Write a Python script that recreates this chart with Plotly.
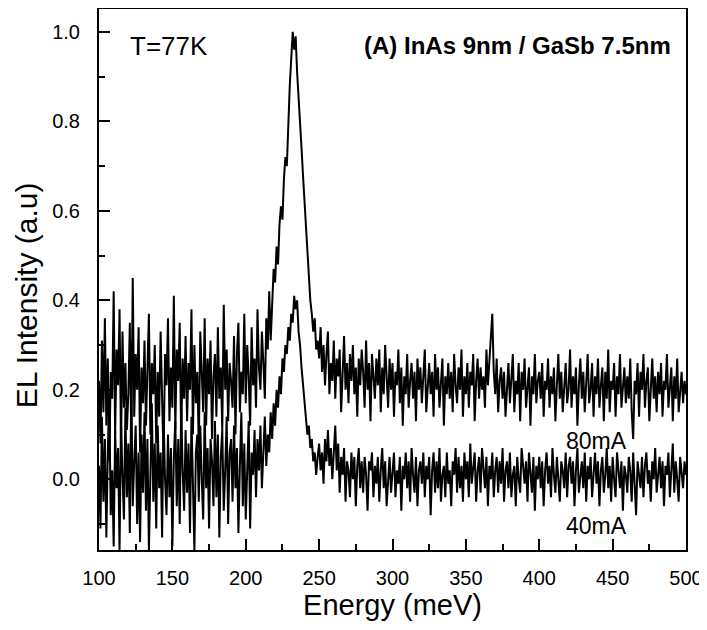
import plotly.graph_objects as go

# Energy axis (meV), 1 meV steps from 100 to 500
energy = list(range(100, 501))

# EL intensity at 80 mA (one row = 10 meV)
el_80ma = [
    0.22, 0.08, 0.31, 0.15, 0.36, 0.12, 0.27, 0.04, 0.24, 0.18,
    0.42, 0.10, 0.29, 0.21, 0.38, 0.07, 0.33, 0.16, 0.26, 0.11,
    0.19, 0.35, 0.09, 0.45, 0.14, 0.28, 0.20, 0.34, 0.06, 0.25,
    0.17, 0.31, 0.12, 0.23, 0.37, 0.10, 0.26, 0.19, 0.30, 0.08,
    0.24, 0.14, 0.33, 0.18, 0.05, 0.28, 0.21, 0.36, 0.13, 0.25,
    0.16, 0.41, 0.11, 0.29, 0.22, 0.35, 0.09, 0.27, 0.18, 0.32,
    0.13, 0.26, 0.20, 0.38, 0.10, 0.30, 0.17, 0.24, 0.07, 0.33,
    0.21, 0.15, 0.36, 0.12, 0.27, 0.19, 0.31, 0.09, 0.23, 0.28,
    0.14, 0.34, 0.18, 0.25, 0.11, 0.39, 0.20, 0.29, 0.13, 0.26,
    0.22, 0.16, 0.32, 0.10, 0.28, 0.35, 0.15, 0.24, 0.19, 0.37,
    0.17, 0.30, 0.23, 0.12, 0.34, 0.21, 0.27, 0.16, 0.38, 0.25,
    0.20, 0.33, 0.26, 0.18, 0.36, 0.29, 0.42, 0.31, 0.39, 0.47,
    0.44, 0.52, 0.48, 0.57, 0.61, 0.58, 0.67, 0.72, 0.70, 0.81,
    0.88, 0.94, 1.00, 0.96, 0.99, 0.91, 0.86, 0.80, 0.74, 0.68,
    0.62, 0.57, 0.50, 0.46, 0.40, 0.37, 0.33, 0.36, 0.29, 0.31,
    0.27, 0.34, 0.24, 0.30, 0.21, 0.28, 0.33, 0.19, 0.26, 0.22,
    0.31, 0.18, 0.27, 0.23, 0.29, 0.15, 0.25, 0.32, 0.20, 0.26,
    0.17, 0.28, 0.22, 0.30, 0.19, 0.25, 0.14, 0.27, 0.21, 0.29,
    0.24, 0.16, 0.31, 0.20, 0.26, 0.13, 0.28, 0.22, 0.18, 0.27,
    0.21, 0.29, 0.15, 0.25, 0.19, 0.30, 0.23, 0.16, 0.27, 0.20,
    0.26, 0.14, 0.24, 0.21, 0.29, 0.17, 0.25, 0.12, 0.23, 0.19,
    0.28, 0.16, 0.22, 0.26, 0.18, 0.24, 0.13, 0.27, 0.20, 0.25,
    0.17, 0.23, 0.29, 0.15, 0.21, 0.26, 0.19, 0.24, 0.14, 0.28,
    0.20, 0.25, 0.16, 0.22, 0.27, 0.12, 0.23, 0.19, 0.26, 0.18,
    0.24, 0.15, 0.28, 0.21, 0.17, 0.25, 0.20, 0.29, 0.14, 0.23,
    0.19, 0.26, 0.16, 0.24, 0.21, 0.28, 0.13, 0.22, 0.27, 0.18,
    0.25, 0.20, 0.23, 0.16, 0.29, 0.21, 0.26, 0.33, 0.37, 0.24,
    0.19, 0.27, 0.15, 0.22, 0.25, 0.18, 0.24, 0.14, 0.21, 0.26,
    0.17, 0.23, 0.28, 0.15, 0.22, 0.19, 0.26, 0.13, 0.24, 0.20,
    0.27, 0.16, 0.21, 0.25, 0.12, 0.23, 0.19, 0.28, 0.17, 0.22,
    0.24, 0.18, 0.26, 0.14, 0.22, 0.20, 0.27, 0.16, 0.23, 0.19,
    0.25, 0.13, 0.21, 0.28, 0.18, 0.24, 0.15, 0.22, 0.26, 0.17,
    0.20, 0.29, 0.16, 0.23, 0.19, 0.25, 0.12, 0.21, 0.27, 0.18,
    0.24, 0.15, 0.22, 0.28, 0.17, 0.20, 0.26, 0.14, 0.23, 0.19,
    0.27, 0.16, 0.21, 0.25, 0.13, 0.24, 0.18, 0.29, 0.15, 0.22,
    0.20, 0.26, 0.14, 0.23, 0.19, 0.28, 0.16, 0.21, 0.25, 0.17,
    0.23, 0.18, 0.27, 0.15, 0.09, 0.22, 0.19, 0.26, 0.14, 0.24,
    0.20, 0.28, 0.16, 0.22, 0.25, 0.13, 0.21, 0.27, 0.18, 0.23,
    0.15, 0.24, 0.19, 0.26, 0.14, 0.22, 0.20, 0.28, 0.16, 0.21,
    0.25, 0.13, 0.23, 0.18, 0.27, 0.15, 0.21, 0.24, 0.17, 0.22,
    0.19,
]

# EL intensity at 40 mA
el_40ma = [
    0.03, -0.11, 0.14, -0.05, 0.09, -0.13, 0.06, 0.18, -0.08, 0.02,
    -0.15, 0.11, -0.02, 0.07, -0.16, 0.13, 0.01, -0.09, 0.16, -0.04,
    0.08, -0.12, 0.21, -0.06, 0.04, 0.12, -0.10, 0.06, -0.14, 0.10,
    -0.03, 0.15, -0.07, 0.09, -0.16, 0.03, 0.17, -0.05, 0.08, -0.11,
    0.12, -0.02, 0.06, -0.13, 0.14, 0.00, -0.08, 0.10, -0.04, 0.07,
    -0.15, 0.05, 0.13, -0.06, 0.09, -0.10, 0.16, 0.02, -0.07, 0.11,
    -0.03, 0.08, -0.12, 0.14, 0.01, -0.16, 0.06, 0.10, -0.05, 0.12,
    0.00, -0.09, 0.15, -0.02, 0.07, -0.11, 0.09, 0.04, -0.06, 0.13,
    -0.04, 0.10, -0.13, 0.05, 0.11, -0.07, 0.02, 0.14, -0.10, 0.06,
    0.09, -0.05, 0.12, -0.02, 0.07, -0.12, 0.03, 0.15, -0.06, 0.08,
    -0.09, 0.04, 0.13, -0.11, 0.06, 0.01, 0.11, -0.04, 0.09, 0.02,
    0.12, -0.02, 0.08, 0.14, 0.03, 0.10, 0.06, 0.15, 0.09, 0.17,
    0.12, 0.20, 0.16, 0.23, 0.19, 0.27, 0.24, 0.30, 0.28, 0.34,
    0.31, 0.37, 0.35, 0.41, 0.38, 0.40, 0.33, 0.30, 0.25, 0.21,
    0.17, 0.14, 0.10, 0.12, 0.07, 0.09, 0.04, 0.06, 0.01, 0.05,
    0.08, 0.02, 0.06, -0.01, 0.09, 0.04, 0.11, 0.03, 0.07, 0.00,
    0.06, 0.12, 0.02, 0.08, -0.03, 0.05, 0.01, 0.07, -0.05, 0.04,
    0.02, -0.04, 0.06, 0.00, 0.05, -0.06, 0.03, 0.07, -0.02, 0.04,
    -0.03, 0.05, 0.01, -0.07, 0.04, 0.02, 0.06, -0.04, 0.03, -0.01,
    0.05, -0.05, 0.02, 0.07, -0.02, 0.04, -0.06, 0.01, 0.05, -0.03,
    0.03, 0.06, -0.04, 0.02, -0.01, 0.05, -0.07, 0.03, 0.00, 0.06,
    -0.02, 0.04, -0.05, 0.07, 0.01, -0.03, 0.05, -0.06, 0.02, 0.04,
    -0.01, 0.06, -0.04, 0.03, 0.00, 0.05, -0.08, 0.02, 0.06, -0.03,
    0.04, -0.02, 0.07, -0.05, 0.01, 0.03, -0.04, 0.06, -0.01, 0.02,
    -0.06, 0.04, 0.01, 0.07, -0.03, 0.05, -0.02, 0.03, -0.05, 0.06,
    0.00, 0.04, -0.04, 0.08, -0.01, 0.03, 0.06, -0.05, 0.02, 0.05,
    -0.03, 0.07, 0.01, -0.02, 0.05, -0.06, 0.03, 0.00, 0.06, -0.04,
    0.02, 0.05, -0.03, 0.04, -0.01, 0.07, -0.05, 0.02, 0.04, -0.02,
    0.06, -0.04, 0.01, 0.03, -0.06, 0.05, 0.00, -0.03, 0.07, 0.02,
    -0.01, 0.04, -0.05, 0.06, 0.01, -0.03, 0.05, -0.07, 0.03, 0.00,
    0.05, -0.02, 0.04, -0.06, 0.02, 0.06, -0.01, 0.03, -0.04, 0.07,
    0.01, -0.03, 0.05, 0.00, -0.05, 0.04, 0.02, -0.02, 0.06, -0.04,
    0.03, 0.05, -0.01, 0.04, -0.06, 0.02, 0.07, -0.03, 0.01, 0.04,
    -0.02, 0.06, -0.05, 0.03, 0.00, 0.05, -0.04, 0.02, 0.06, -0.01,
    0.04, -0.06, 0.02, 0.05, -0.03, 0.01, 0.07, -0.02, 0.03, -0.05,
    0.05, 0.00, -0.04, 0.06, 0.02, -0.02, 0.04, -0.07, 0.03, 0.01,
    -0.03, 0.05, 0.02, -0.05, 0.06, 0.00, -0.08, 0.04, 0.01, -0.02,
    0.05, -0.04, 0.03, 0.06, -0.01, 0.02, -0.05, 0.04, 0.00, 0.07,
    -0.03, 0.02, 0.05, -0.02, 0.04, -0.06, 0.03, 0.01, 0.06, -0.04,
    0.02, 0.08, -0.03, 0.04, 0.00, -0.05, 0.05, 0.02, -0.02, 0.04,
    0.01,
]

font = "Liberation Sans, Arial, Helvetica, sans-serif"

fig = go.Figure()
fig.add_trace(go.Scatter(x=energy, y=el_80ma, mode="lines",
                         line=dict(color="black", width=2), name="80mA"))
fig.add_trace(go.Scatter(x=energy, y=el_40ma, mode="lines",
                         line=dict(color="black", width=2), name="40mA"))

# annotations
fig.add_annotation(x=120, y=0.969, text="T=77K", showarrow=False,
                   xanchor="left", yanchor="middle",
                   font=dict(family=font, size=26, color="black"))
fig.add_annotation(x=491, y=0.969, text="<b>(A) InAs 9nm / GaSb 7.5nm</b>",
                   showarrow=False, xanchor="right", yanchor="middle",
                   font=dict(family=font, size=24, color="black"))
fig.add_annotation(x=439, y=0.085, text="80mA", showarrow=False,
                   font=dict(family=font, size=23, color="black"))
fig.add_annotation(x=439, y=-0.105, text="40mA", showarrow=False,
                   font=dict(family=font, size=23, color="black"))

# y axis title as a rotated annotation (sits a bit below the plot centre)
fig.add_annotation(xref="paper", yref="paper", x=0, y=0.471, xshift=-73,
                   text="EL Intensity (a.u)", textangle=-90, showarrow=False,
                   xanchor="center", yanchor="middle",
                   font=dict(family=font, size=30, color="black"))

axis_common = dict(
    showgrid=False, zeroline=False, automargin=False,
    showline=True, linecolor="black", linewidth=2, mirror=True,
    ticks="inside", ticklen=11, tickwidth=2, tickcolor="black",
    tickfont=dict(family=font, size=20, color="black"),
)

fig.update_xaxes(
    range=[100, 500], dtick=50, tick0=100,
    minor=dict(ticks="inside", ticklen=6, tickwidth=1.5, dtick=25,
               tickcolor="black"),
    title=dict(text="Energy (meV)", font=dict(family=font, size=29,
                                              color="black"), standoff=6),
    ticklabelstandoff=9,
    **axis_common,
)
fig.update_yaxes(
    range=[-0.158, 1.051], dtick=0.2, tick0=0, tickformat=".1f",
    minor=dict(ticks="inside", ticklen=6, tickwidth=1.5, dtick=0.1,
               tickcolor="black"),
    ticklabelstandoff=13,
    **axis_common,
)

# page body adds an 8 px offset, so the figure is sized to fit inside it
fig.update_layout(
    width=699, height=622,
    margin=dict(l=91, r=21, t=1, b=80),
    plot_bgcolor="white", paper_bgcolor="white",
    showlegend=False,
)

fig.write_html("out.html")
